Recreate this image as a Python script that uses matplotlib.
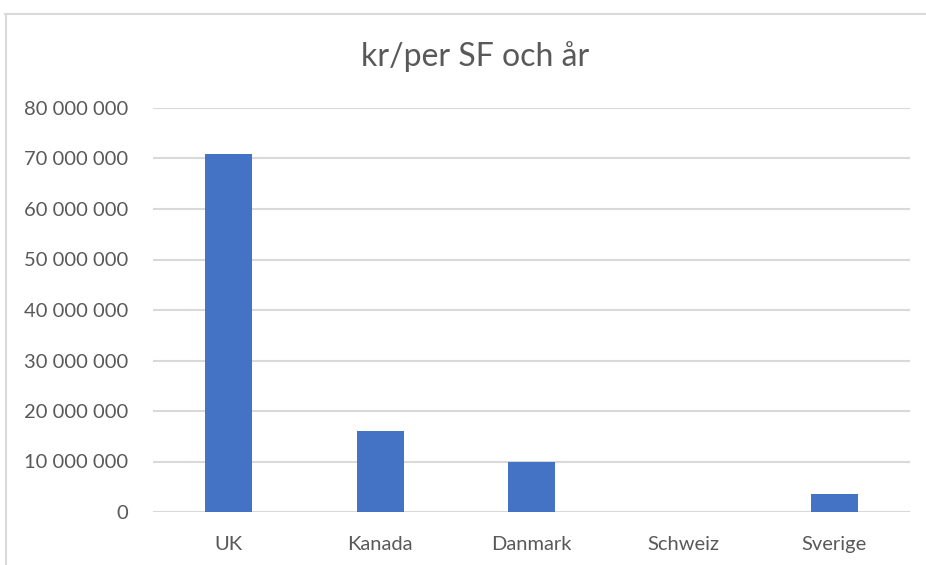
import matplotlib; matplotlib.use("Agg")
import matplotlib.pyplot as plt
from matplotlib.ticker import FuncFormatter, MultipleLocator
from matplotlib.lines import Line2D

countries = ["UK", "Kanada", "Danmark", "Schweiz", "Sverige"]
values = [70_800_000, 16_000_000, 9_850_000, 0, 3_500_000]

GRAY = "#595959"
GRID = "#d9d9d9"
BLUE = "#4472c4"

plt.rcParams["font.family"] = ["Lato", "DejaVu Sans"]

fig = plt.figure(figsize=(9.26, 5.65), dpi=100)
ax = fig.add_axes([153/926, 1 - 512/565, (910 - 153)/926, (512 - 108)/565])

x = range(len(countries))
ax.bar(x, values, width=0.31, color=BLUE, zorder=3)
ax.set_xlim(-0.5, len(countries) - 0.5)
ax.set_ylim(0, 80_000_000)
ax.yaxis.set_major_locator(MultipleLocator(10_000_000))
ax.yaxis.set_major_formatter(FuncFormatter(lambda v, p: f"{v:,.0f}".replace(",", " ")))
ax.set_xticks(list(x))
ax.set_xticklabels(countries)
ax.grid(axis="y", color=GRID, lw=1.5, zorder=0)
for s in ax.spines.values():
    s.set_visible(False)
ax.tick_params(axis="both", length=0, colors=GRAY, labelsize=14.5)
ax.tick_params(axis="y", pad=18)
ax.tick_params(axis="x", pad=17)

fig.text(475/926, 1 - 57/565, "kr/per SF och år", ha="center", va="center",
         fontsize=23, color=GRAY)

# chart frame (top and left edges visible in the crop)
fig.add_artist(Line2D([5/926, 1], [1 - 14/565] * 2, color=GRID, lw=1.5))
fig.add_artist(Line2D([6/926] * 2, [0, 1 - 14/565], color=GRID, lw=1.5))

fig.savefig("out.png", dpi=100)
